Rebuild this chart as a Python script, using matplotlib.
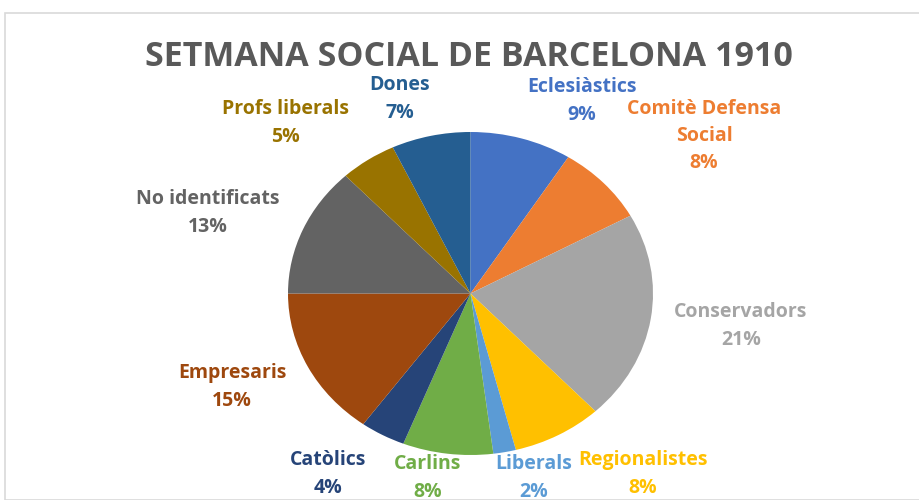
import matplotlib
matplotlib.use("Agg")
import matplotlib.pyplot as plt
from matplotlib.patches import Rectangle

title = "SETMANA SOCIAL DE BARCELONA 1910"
categories = ["Eclesiàstics", "Comitè Defensa\nSocial", "Conservadors", "Regionalistes",
              "Liberals", "Carlins", "Catòlics", "Empresaris", "No identificats",
              "Profs liberals", "Dones"]
values = [9, 8, 21, 8, 2, 8, 4, 15, 13, 5, 7]
colors = ["#4472C4", "#ED7D31", "#A5A5A5", "#FFC000", "#5B9BD5", "#70AD47",
          "#264478", "#9E480E", "#636363", "#997300", "#255E91"]

# label anchor positions (pixel coords, from top-left) – layout only
label_pos = [(582, 101), (704, 136), (741, 326), (643, 474), (534, 478), (428, 478),
             (328, 474), (232, 387), (208, 213), (285, 123), (400, 99)]

W, H = 919, 500
fig = plt.figure(figsize=(W / 100, H / 100), dpi=100)
fig.patch.set_facecolor("white")

# chart border
fig.patches.append(Rectangle((5 / W, 0), 1, 1 - 13 / H, transform=fig.transFigure,
                             fill=False, edgecolor="#D9D9D9", linewidth=1.2))

ax = fig.add_axes([288 / W, (H - 455) / H, 365 / W, 323 / H])
total = sum(values)
ax.pie(values, colors=colors, startangle=90, counterclock=False,
       wedgeprops=dict(linewidth=0))
ax.set_aspect("auto")
ax.set_xlim(-1, 1)
ax.set_ylim(-1, 1)
ax.axis("off")

fam = ["Open Sans", "DejaVu Sans"]
fig.text(469 / W, 1 - 57 / H, title, ha="center", va="center", fontsize=24.5,
         fontweight="bold", color="#595959", family=fam)

for name, v, c, (px, py) in zip(categories, values, colors, label_pos):
    pct = round(100 * v / total)
    fig.text(px / W, 1 - py / H, f"{name}\n{pct}%", ha="center", va="center",
             fontsize=14, fontweight="bold", color=c, family=fam,
             linespacing=1.5)

fig.savefig("out.png", dpi=100)
